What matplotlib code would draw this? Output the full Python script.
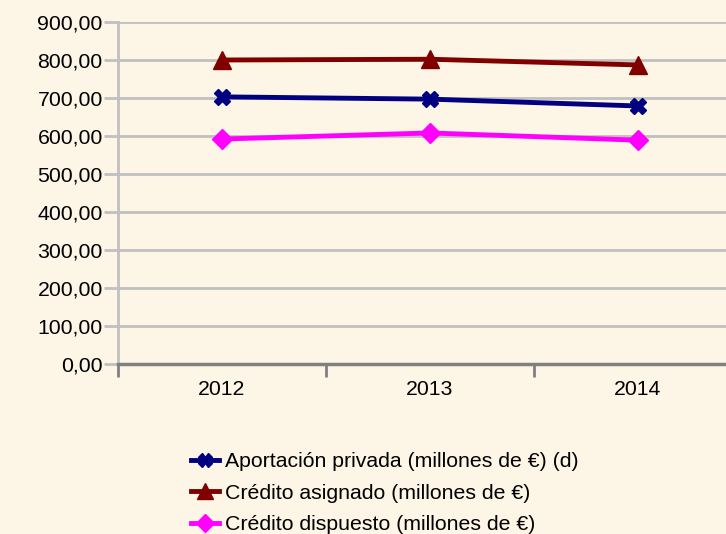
import matplotlib
matplotlib.use("Agg")
import matplotlib.pyplot as plt
from matplotlib.ticker import FixedLocator, FuncFormatter

plt.rcParams['font.family'] = ['Liberation Sans', 'DejaVu Sans']

years = ["2012", "2013", "2014"]
aportacion = [703, 697, 679]
asignado = [800, 802, 787]
dispuesto = [592, 608, 589]
labels = ["Aportación privada (millones de €) (d)",
          "Crédito asignado (millones de €)",
          "Crédito dispuesto (millones de €)"]
yticks = [0, 100, 200, 300, 400, 500, 600, 700, 800, 900]

bg = "#FDF5E6"
FS = 15.3
W, H = 726, 534
fig = plt.figure(figsize=(W/100, H/100), dpi=100, facecolor=bg)
# axes: left 118, right 742 (offscreen), top 22, bottom 364
ax = fig.add_axes([118/W, 1-364/H, (742-118)/W, (364-22)/H], facecolor=bg)

x = list(range(len(years)))
ax.plot(x, aportacion, color="#000080", lw=3.5, marker="X", ms=11, zorder=3, label=labels[0])
ax.plot(x, asignado, color="#800000", lw=3.5, marker="^", ms=13, zorder=3, label=labels[1])
ax.plot(x, dispuesto, color="#FF00FF", lw=3.5, marker="D", ms=10, zorder=3, label=labels[2])

ax.set_xlim(-0.5, 2.5)
ax.set_ylim(0, 900)
ax.set_yticks(yticks)
ax.yaxis.set_major_formatter(FuncFormatter(lambda v, p: f"{v:.2f}".replace(".", ",")))
ax.grid(axis="y", color="#C0C0C0", lw=2)
ax.set_axisbelow(True)

ax.set_xticks(x)
ax.set_xticklabels(years)
ax.xaxis.set_minor_locator(FixedLocator([-0.5, 0.5, 1.5, 2.5]))
ax.tick_params(axis="x", which="major", length=0, pad=11.5, labelsize=FS)
ax.tick_params(axis="x", which="minor", length=9, width=2, color="#808080")
ax.tick_params(axis="y", length=10, width=2, color="#C0C0C0", labelsize=FS, pad=1)

for s in ["top", "right"]:
    ax.spines[s].set_visible(False)
ax.spines["left"].set_color("#C0C0C0")
ax.spines["left"].set_linewidth(2)
ax.spines["bottom"].set_color("#808080")
ax.spines["bottom"].set_linewidth(2.5)

handles, lbls = ax.get_legend_handles_labels()
leg = fig.legend(handles, lbls, loc="upper left", bbox_to_anchor=(191/W, 1-452/H),
                 frameon=False, fontsize=FS, handlelength=1.3, handletextpad=0.3,
                 labelspacing=0.6, borderaxespad=0, borderpad=0, markerscale=0.9)

fig.savefig("out.png", dpi=100, facecolor=bg)
